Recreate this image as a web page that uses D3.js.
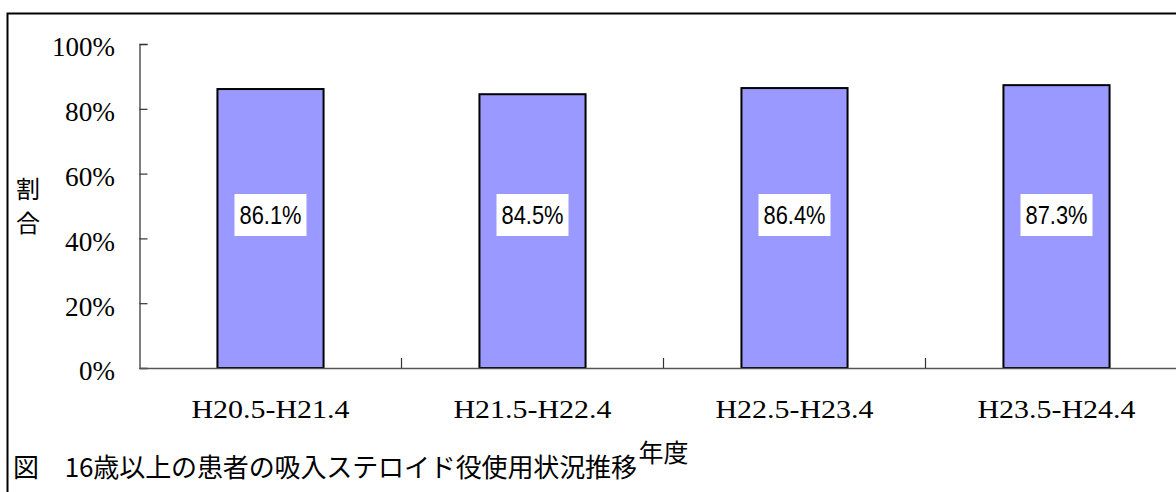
<!DOCTYPE html>
<html><head><meta charset="utf-8">
<script src="https://cdn.jsdelivr.net/npm/d3@7"></script>
<style>html,body{margin:0;padding:0;background:#fff;overflow:hidden}</style>
</head><body>
<svg id="chart" width="1176" height="492"></svg>
<script>
const categories = ["H20.5-H21.4", "H21.5-H22.4", "H22.5-H23.4", "H23.5-H24.4"];
const values = [86.1, 84.5, 86.4, 87.3];
const yTicks = [0, 20, 40, 60, 80, 100];
const yTitle = ["割", "合"];
const xTitle = "年度";
const caption = "図　16歳以上の患者の吸入ステロイド役使用状況推移";

const svg = d3.select("#chart");
const plotL = 139.5, plotR = 1187.5, plotT = 44, plotB = 368;
const x = d3.scaleBand().domain(categories).range([plotL, plotR]).paddingInner(0.595).paddingOuter(0.2975);
const y = d3.scaleLinear().domain([0, 100]).range([plotB, plotT]);

// outer frame
svg.append("rect").attr("x", 7.5).attr("y", 13.5).attr("width", 1200).attr("height", 500)
  .attr("fill", "none").attr("stroke", "#000").attr("stroke-width", 2);

// bars
svg.selectAll("rect.bar").data(values).join("rect").attr("class", "bar")
  .attr("x", (d, i) => x(categories[i]))
  .attr("y", d => y(d))
  .attr("width", x.bandwidth())
  .attr("height", d => y(0) - y(d))
  .attr("fill", "#9999ff").attr("stroke", "#000").attr("stroke-width", 2);

// y axis
const yAxis = d3.axisRight(y).tickValues(yTicks).tickSize(8).tickFormat("");
const ya = svg.append("g").attr("transform", `translate(${plotL},0)`).call(yAxis);
ya.select(".domain").attr("stroke", "#555").attr("stroke-width", 1.5);
ya.selectAll(".tick line").attr("stroke", "#333").attr("stroke-width", 1.2);
svg.selectAll("text.ylab").data(yTicks).join("text").attr("class", "ylab")
  .attr("x", 115).attr("y", d => y(d) + 3).attr("dy", "0.35em")
  .attr("text-anchor", "end")
  .attr("font-family", "Liberation Serif").attr("font-size", 27).attr("fill", "#000")
  .attr("textLength", d => d === 100 ? 63 : (d === 0 ? 36 : 50)).attr("lengthAdjust", "spacingAndGlyphs")
  .text(d => d + "%");

// x axis
const xa = svg.append("g").attr("transform", `translate(0,${plotB})`)
  .call(d3.axisBottom(x).tickSize(0).tickFormat(""));
xa.select(".domain").attr("stroke", "#555").attr("stroke-width", 1.5);
// category boundary ticks (inward)
svg.selectAll("line.xt").data(categories.slice(1)).join("line").attr("class", "xt")
  .attr("x1", d => x(d) + x.bandwidth() / 2 - x.step() / 2)
  .attr("x2", d => x(d) + x.bandwidth() / 2 - x.step() / 2)
  .attr("y1", plotB - 10).attr("y2", plotB)
  .attr("stroke", "#333").attr("stroke-width", 1.2);
svg.selectAll("text.xlab").data(categories).join("text").attr("class", "xlab")
  .attr("x", d => x(d) + x.bandwidth() / 2).attr("y", 418)
  .attr("text-anchor", "middle")
  .attr("font-family", "Liberation Serif").attr("font-size", 26).attr("fill", "#000")
  .attr("textLength", 158).attr("lengthAdjust", "spacingAndGlyphs")
  .text(d => d);

// bar value labels
const lab = svg.selectAll("g.vl").data(values).join("g").attr("class", "vl")
  .attr("transform", (d, i) => `translate(${x(categories[i]) + x.bandwidth() / 2},215)`);
lab.append("rect").attr("x", -36).attr("y", -21).attr("width", 72).attr("height", 42).attr("fill", "#fff");
lab.append("text").attr("text-anchor", "middle").attr("y", 9)
  .attr("font-family", "Liberation Sans, Arial").attr("font-size", 26).attr("fill", "#000")
  .attr("textLength", 62).attr("lengthAdjust", "spacingAndGlyphs")
  .text(d => d.toFixed(1) + "%");

// axis titles
svg.selectAll("text.yt").data(yTitle).join("text").attr("class", "yt")
  .attr("x", 28).attr("y", (d, i) => 190 + i * 34).attr("dy", "0.35em")
  .attr("text-anchor", "middle")
  .attr("font-family", "Noto Sans CJK JP").attr("font-size", 24).attr("fill", "#000")
  .text(d => d);
svg.append("text").attr("x", (plotL + plotR) / 2).attr("y", 453).attr("dy", "0.35em")
  .attr("text-anchor", "middle")
  .attr("font-family", "Noto Sans CJK JP").attr("font-size", 25).attr("fill", "#000")
  .text(xTitle);

// caption
svg.append("text").attr("x", 13).attr("y", 477)
  .attr("font-family", "Noto Sans CJK JP").attr("font-size", 26).attr("fill", "#000")
  .attr("textLength", 624).attr("lengthAdjust", "spacing")
  .text(caption);
</script>
</body></html>
